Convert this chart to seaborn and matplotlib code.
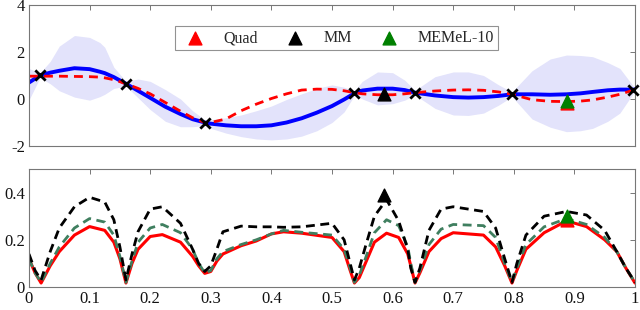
import numpy as np
import pandas as pd
import seaborn as sns
import matplotlib.pyplot as plt

# top panel: GP fit of the objective
top_x = [0, 0.018, 0.035, 0.05, 0.075, 0.1, 0.117, 0.125, 0.14, 0.16, 0.18, 0.2, 0.225,
         0.25, 0.27, 0.29, 0.3, 0.325, 0.35, 0.375, 0.4, 0.425, 0.45, 0.475, 0.5, 0.52,
         0.537, 0.55, 0.575, 0.6, 0.62, 0.637, 0.67, 0.7, 0.725, 0.75, 0.775, 0.797,
         0.83, 0.86, 0.887, 0.91, 0.93, 0.955, 0.975, 1.0]
gp_mean = [0.7, 1.0, 1.12, 1.2, 1.31, 1.27, 1.16, 1.1, 0.93, 0.65, 0.35, 0.05, -0.33,
           -0.64, -0.86, -1.0, -1.05, -1.12, -1.16, -1.16, -1.12, -1.0, -0.82, -0.58, -0.3, -0.02,
           0.24, 0.36, 0.44, 0.44, 0.38, 0.27, 0.15, 0.08, 0.06, 0.08, 0.13, 0.2,
           0.2, 0.18, 0.2, 0.24, 0.3, 0.37, 0.4, 0.4]
gp_upper = [1.3, 1.1, 1.6, 2.25, 2.7, 2.62, 2.4, 2.2, 1.35, 0.75, 0.85, 0.75, 0.4,
            0.0, -0.5, -0.88, -0.88, -0.8, -0.68, -0.5, -0.3, -0.02, 0.22, 0.45, 0.6, 0.5,
            0.35, 0.75, 1.15, 1.12, 0.8, 0.37, 0.95, 1.15, 1.15, 1.0, 0.6, 0.3,
            1.2, 1.7, 1.87, 1.85, 1.8, 1.55, 1.3, 0.45]
gp_lower = [-0.04, 0.9, 0.65, 0.35, 0.08, -0.05, 0.1, 0.2, 0.45, 0.55, 0.05, -0.45, -0.95,
            -1.18, -1.18, -1.13, -1.25, -1.45, -1.6, -1.7, -1.74, -1.7, -1.58, -1.35, -1.0, -0.55,
            0.15, 0.0, -0.25, -0.2, -0.05, 0.17, -0.4, -0.68, -0.7, -0.6, -0.26, 0.1,
            -0.85, -1.2, -1.39, -1.35, -1.25, -0.95, -0.6, 0.35]
true_f = [0.97, 0.97, 0.97, 0.97, 0.96, 0.95, 0.93, 0.9, 0.82, 0.65, 0.45, 0.22, -0.15,
          -0.52, -0.8, -1.0, -1.0, -0.85, -0.5, -0.22, 0.02, 0.22, 0.38, 0.42, 0.41, 0.35,
          0.27, 0.22, 0.18, 0.18, 0.22, 0.27, 0.34, 0.38, 0.39, 0.37, 0.3, 0.2,
          -0.03, -0.1, -0.11, -0.09, -0.04, 0.08, 0.2, 0.4]

obs_x = [0.018, 0.16, 0.29, 0.537, 0.637, 0.797, 0.997]
obs_y = [1.0, 0.65, -1.0, 0.25, 0.27, 0.2, 0.4]

# chosen next points
methods = ["Quad", "MM", "MEMeL-10"]
pick_x = [0.887, 0.586, 0.888]
pick_top_y = [-0.16, 0.2, -0.1]
pick_bot_y = [0.285, 0.389, 0.30]

# bottom panel: acquisition functions
bot_x = [0, 0.01, 0.02, 0.035, 0.05, 0.075, 0.1, 0.125, 0.14, 0.15,
         0.16, 0.17, 0.18, 0.2, 0.22, 0.25, 0.27, 0.28, 0.29, 0.3,
         0.31, 0.32, 0.35, 0.375, 0.4, 0.42, 0.45, 0.5, 0.52, 0.53,
         0.537, 0.545, 0.555, 0.57, 0.59, 0.61, 0.625, 0.63, 0.637, 0.645,
         0.66, 0.68, 0.7, 0.75, 0.77, 0.785, 0.797, 0.805, 0.82, 0.85,
         0.887, 0.92, 0.95, 0.97, 0.985, 1.0]
quad = [0.12, 0.06, 0.017, 0.09, 0.15, 0.22, 0.256, 0.24, 0.19, 0.12,
        0.017, 0.1, 0.16, 0.214, 0.222, 0.19, 0.13, 0.09, 0.058, 0.066,
        0.11, 0.14, 0.175, 0.195, 0.225, 0.234, 0.228, 0.21, 0.15, 0.07,
        0.017, 0.04, 0.1, 0.19, 0.228, 0.21, 0.14, 0.09, 0.017, 0.06,
        0.15, 0.205, 0.23, 0.22, 0.17, 0.09, 0.017, 0.07, 0.16, 0.23,
        0.28, 0.256, 0.2, 0.15, 0.08, 0.017]
memel = [0.12, 0.06, 0.02, 0.1, 0.17, 0.25, 0.29, 0.275, 0.22, 0.13,
         0.02, 0.11, 0.19, 0.25, 0.265, 0.23, 0.16, 0.1, 0.06, 0.07,
         0.12, 0.15, 0.18, 0.2, 0.225, 0.24, 0.232, 0.22, 0.16, 0.08,
         0.02, 0.05, 0.12, 0.23, 0.285, 0.26, 0.17, 0.1, 0.02, 0.07,
         0.18, 0.245, 0.265, 0.26, 0.21, 0.1, 0.02, 0.08, 0.18, 0.255,
         0.29, 0.265, 0.21, 0.15, 0.08, 0.02]
mm = [0.14, 0.07, 0.03, 0.15, 0.25, 0.34, 0.38, 0.36, 0.285, 0.17,
      0.03, 0.14, 0.235, 0.33, 0.34, 0.27, 0.16, 0.1, 0.066, 0.09,
      0.16, 0.234, 0.258, 0.255, 0.255, 0.253, 0.255, 0.27, 0.2, 0.1,
      0.03, 0.08, 0.17, 0.3, 0.37, 0.28, 0.16, 0.08, 0.02, 0.08,
      0.24, 0.33, 0.34, 0.32, 0.25, 0.12, 0.02, 0.1, 0.22, 0.3,
      0.32, 0.305, 0.24, 0.15, 0.08, 0.02]

x_ticks = [0, 0.1, 0.2, 0.3, 0.4, 0.5, 0.6, 0.7, 0.8, 0.9, 1]
x_labels = ["0", "0.1", "0.2", "0.3", "0.4", "0.5", "0.6", "0.7", "0.8", "0.9", "1"]

sns.set_style("white")
plt.rcParams['font.family'] = ['Liberation Serif', 'DejaVu Serif']
plt.rcParams['axes.unicode_minus'] = False

fig = plt.figure(figsize=(6.4, 3.1), dpi=100)
ax1 = fig.add_axes([0.0453, 0.529, 0.9469, 0.455])
ax2 = fig.add_axes([0.0453, 0.074, 0.9469, 0.381])

pick_colors = ["#ff0000", "#000000", "#008000"]

# --- top
ax1.fill_between(top_x, gp_lower, gp_upper, color="#e3e3fb", lw=0)
sns.lineplot(x=top_x, y=gp_mean, ax=ax1, color="#0000ff", lw=2.8)
sns.lineplot(x=top_x, y=true_f, ax=ax1, color="#ff0000", lw=2.0, linestyle=(0, (3.2, 2.2)))
ax1.scatter(obs_x, obs_y, marker="x", color="black", s=55, lw=2, zorder=5, clip_on=False)
handles = []
for i in range(3):
    h = ax1.scatter(pick_x[i], pick_top_y[i], marker="^", color=pick_colors[i], s=85,
                    zorder=6 if i != 0 else 5.5, label=methods[i])
    handles.append(h)
ax1.set_xlim(0, 1)
ax1.set_ylim(-2, 4)
ax1.set_yticks([-2, 0, 2, 4])
ax1.set_yticklabels(["-2", "0", "2", "4"])
ax1.set_xticks(x_ticks)
ax1.set_xticklabels([])
leg = ax1.legend(handles, methods, loc="upper center", bbox_to_anchor=(0.507, 0.905), ncol=3,
                 frameon=True, fancybox=False, edgecolor="#777777", fontsize=11.5,
                 handletextpad=0.8, columnspacing=1.3, borderpad=0.25, scatterpoints=1)
leg.get_frame().set_linewidth(0.8)

# --- bottom
sns.lineplot(x=bot_x, y=quad, ax=ax2, color="#ff0000", lw=2.2)
sns.lineplot(x=bot_x, y=memel, ax=ax2, color="#3f7f5f", lw=2.0, linestyle=(0, (3.2, 2.0)))
sns.lineplot(x=bot_x, y=mm, ax=ax2, color="#000000", lw=2.0, linestyle=(0, (3.2, 2.0)))
for i in range(3):
    ax2.scatter(pick_x[i], pick_bot_y[i], marker="^", color=pick_colors[i], s=85, zorder=6)
ax2.set_xlim(0, 1)
ax2.set_ylim(0, 0.5)
ax2.set_yticks([0, 0.2, 0.4])
ax2.set_yticklabels(["0", "0.2", "0.4"])
ax2.set_xticks(x_ticks)
ax2.set_xticklabels(x_labels)

for ax in (ax1, ax2):
    ax.tick_params(direction="in", length=3.5, width=0.7, colors="#777777",
                   labelcolor="#111111", labelsize=12, top=True, right=True, pad=3)
    for s in ax.spines.values():
        s.set_color("#777777")
        s.set_linewidth(0.8)
    ax.set_xlabel("")
    ax.set_ylabel("")

fig.savefig("out.png", dpi=100)
